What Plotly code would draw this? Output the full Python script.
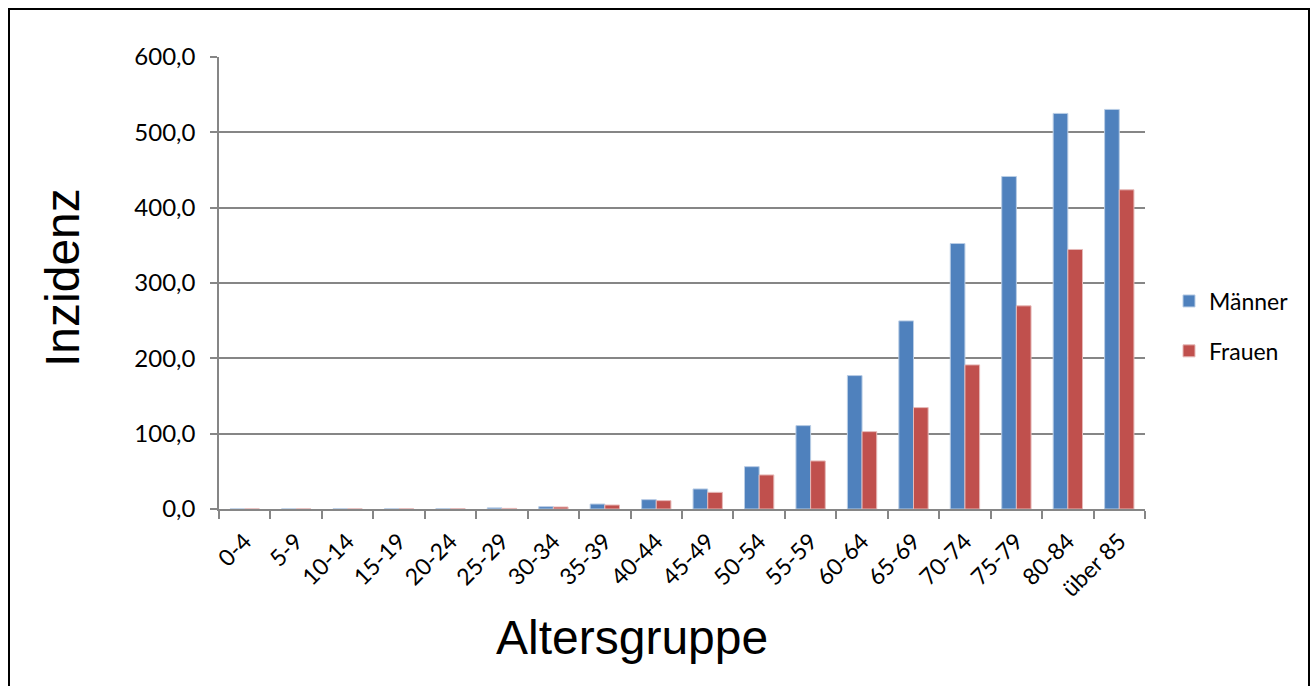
import plotly.graph_objects as go

# Age groups and incidence per sex
altersgruppen = ["0-4", "5-9", "10-14", "15-19", "20-24", "25-29", "30-34", "35-39",
                 "40-44", "45-49", "50-54", "55-59", "60-64", "65-69", "70-74",
                 "75-79", "80-84", "über 85"]
maenner = [0.1, 0.1, 0.2, 0.2, 0.4, 1.5, 3.1, 6.6, 12.4, 26.6, 56.2, 110.7,
           177.1, 249.7, 352.4, 441.4, 525.1, 530.4]
frauen = [0.1, 0.1, 0.1, 0.2, 0.3, 0.8, 2.7, 5.3, 11.1, 22.1, 45.2, 63.8,
          102.7, 134.6, 191.3, 269.7, 344.5, 423.7]
y_ticks = [0, 100, 200, 300, 400, 500, 600]

W, H = 1316, 686
L, R, T, B = 219, 1145, 57, 509
pw, ph = R - L, B - T


def px(x):
    return (x - L) / pw


def py(y):
    return (B - y) / ph


label_font = dict(family="Lato, Open Sans, sans-serif", size=23, color="black")
ytick_font = dict(family="Lato, Open Sans, sans-serif", size=24, color="black")
axis_gray = "#868686"

fig = go.Figure()
fig.add_trace(go.Bar(
    x=altersgruppen, y=maenner, name="Männer", legendgroup="m",
    marker=dict(color="#4F81BD", line=dict(color="#B9CDE5", width=1)),
))
fig.add_trace(go.Bar(
    x=altersgruppen, y=frauen, name="Frauen", legendgroup="f",
    marker=dict(color="#C0504D", line=dict(color="#E6B9B8", width=1)),
))

fig.update_layout(
    width=W, height=H,
    margin=dict(l=L, r=W - R, t=T, b=H - B),
    plot_bgcolor="white", paper_bgcolor="white",
    separators=", ",
    barmode="group", bargap=0.43, bargroupgap=0,
    font=label_font,
    showlegend=True,
    legend=dict(x=px(1169), y=py(326), xanchor="left", yanchor="middle",
                font=label_font, tracegroupgap=17, bgcolor="rgba(0,0,0,0)"),
    xaxis=dict(
        type="category", tickangle=-45, tickson="boundaries",
        ticks="outside", ticklen=8, tickcolor=axis_gray, tickwidth=1.5,
        showline=True, linecolor=axis_gray, linewidth=1.5,
        showgrid=False, tickfont=label_font, ticklabelstandoff=8,
    ),
    yaxis=dict(
        range=[0, 600], tickvals=y_ticks, tickformat=".1f",
        ticks="outside", ticklen=7, tickcolor=axis_gray, tickwidth=1.5,
        showline=True, linecolor=axis_gray, linewidth=1.5,
        showgrid=True, gridcolor=axis_gray, gridwidth=1.5,
        zeroline=False, tickfont=ytick_font, ticklabelstandoff=10,
    ),
    annotations=[
        dict(text="Inzidenz", xref="paper", yref="paper", x=px(62), y=py(278),
             textangle=-90, showarrow=False, xanchor="center", yanchor="middle",
             font=dict(family="Liberation Sans, Arial, sans-serif", size=48, color="black")),
        dict(text="Altersgruppe", xref="paper", yref="paper", x=px(632), y=py(637),
             showarrow=False, xanchor="center", yanchor="middle",
             font=dict(family="Liberation Sans, Arial, sans-serif", size=48, color="black")),
    ],
    shapes=[
        dict(type="rect", xref="paper", yref="paper",
             x0=px(9), x1=px(1309), y0=py(720), y1=py(9),
             line=dict(color="black", width=2), layer="above"),
    ],
)

fig.write_html("out.html")
